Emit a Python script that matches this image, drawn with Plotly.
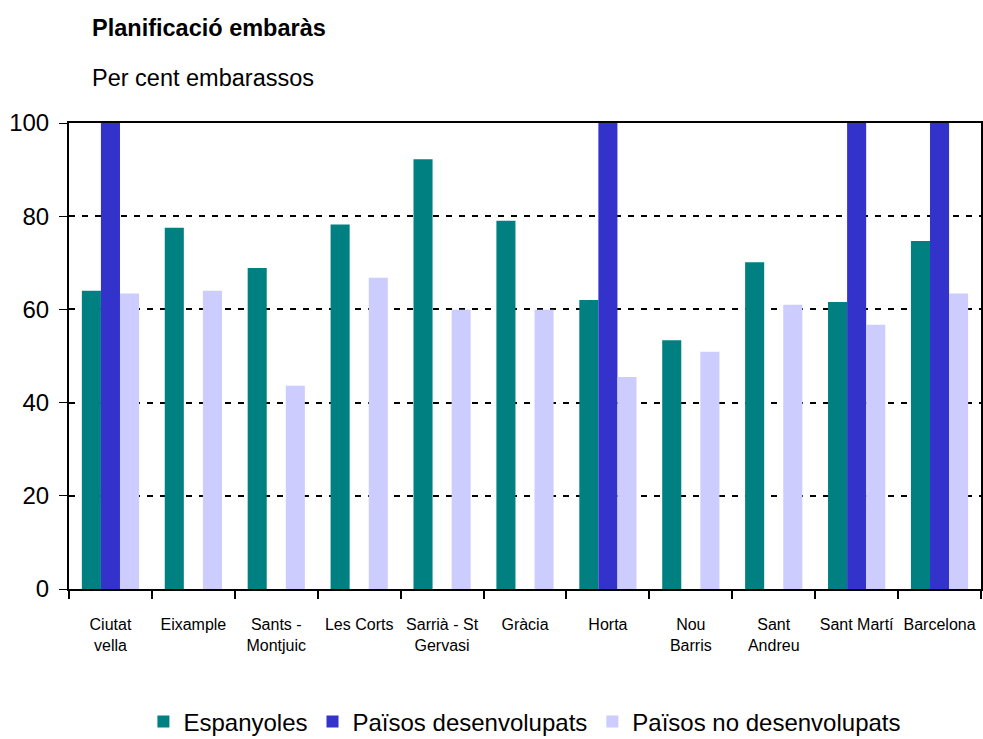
import plotly.graph_objects as go

categories = ["Ciutat<br>vella", "Eixample", "Sants -<br>Montjuic", "Les Corts",
              "Sarrià - St<br>Gervasi", "Gràcia", "Horta", "Nou<br>Barris",
              "Sant<br>Andreu", "Sant Martí", "Barcelona"]
espanyoles = [64.0, 77.5, 68.9, 78.2, 92.2, 79.0, 62.0, 53.4, 70.1, 61.6, 74.7]
desenvolupats = [100, 0, 0, 0, 0, 0, 100, 0, 0, 100, 100]
no_desenvolupats = [63.4, 64.0, 43.6, 66.8, 59.9, 59.9, 45.5, 50.9, 61.0, 56.7, 63.4]
y_ticks = [0, 20, 40, 60, 80, 100]

FONT = "Liberation Sans, Arial, sans-serif"

fig = go.Figure()
fig.add_trace(go.Bar(x=categories, y=espanyoles, name="Espanyoles",
                     marker=dict(color="#008080", line=dict(width=0))))
fig.add_trace(go.Bar(x=categories, y=desenvolupats, name="Països desenvolupats",
                     marker=dict(color="#3333CC", line=dict(width=0))))
fig.add_trace(go.Bar(x=categories, y=no_desenvolupats, name="Països no desenvolupats",
                     marker=dict(color="#CCCCFF", line=dict(width=0))))

fig.update_layout(
    width=983, height=739,
    margin=dict(l=69, r=2, t=123, b=150, autoexpand=False),
    paper_bgcolor="white", plot_bgcolor="white",
    barmode="group", bargap=0.31, bargroupgap=0,
    font=dict(family=FONT, color="black"),
    showlegend=True,
    legend=dict(orientation="h", xref="container", yref="container",
                x=0.534, xanchor="center", y=1 - 722 / 739, yanchor="middle",
                font=dict(size=24, family=FONT), traceorder="normal"),
    annotations=[
        dict(text="<b>Planificació embaràs</b>", xref="paper", yref="paper",
             x=(90 - 69) / 912, y=(589 - 28) / 466, xanchor="left", yanchor="middle",
             showarrow=False, font=dict(size=23.5, family=FONT)),
        dict(text="Per cent embarassos", xref="paper", yref="paper",
             x=(90 - 69) / 912, y=(589 - 78) / 466, xanchor="left", yanchor="middle",
             showarrow=False, font=dict(size=23.5, family=FONT)),
    ],
)

fig.update_yaxes(range=[0, 100], tickvals=y_ticks, showgrid=True,
                 gridcolor="black", gridwidth=2, griddash="6px,7px",
                 showline=True, linecolor="black", linewidth=2, mirror=True,
                 ticks="outside", ticklen=8, tickcolor="black", tickwidth=1,
                 ticklabelstandoff=5, automargin=False,
                 tickfont=dict(size=24, family=FONT), zeroline=False)
fig.update_xaxes(type="category", tickson="boundaries", ticks="outside", ticklen=8,
                 tickcolor="black", tickwidth=2, showline=True, linecolor="black",
                 linewidth=2, mirror=True, showgrid=False, automargin=False,
                 ticklabelstandoff=20,
                 tickfont=dict(size=16, family=FONT), tickangle=0)

fig.write_html("out.html", config={"displayModeBar": False},
               post_script="document.body.style.margin='0';document.body.style.overflow='hidden';")
